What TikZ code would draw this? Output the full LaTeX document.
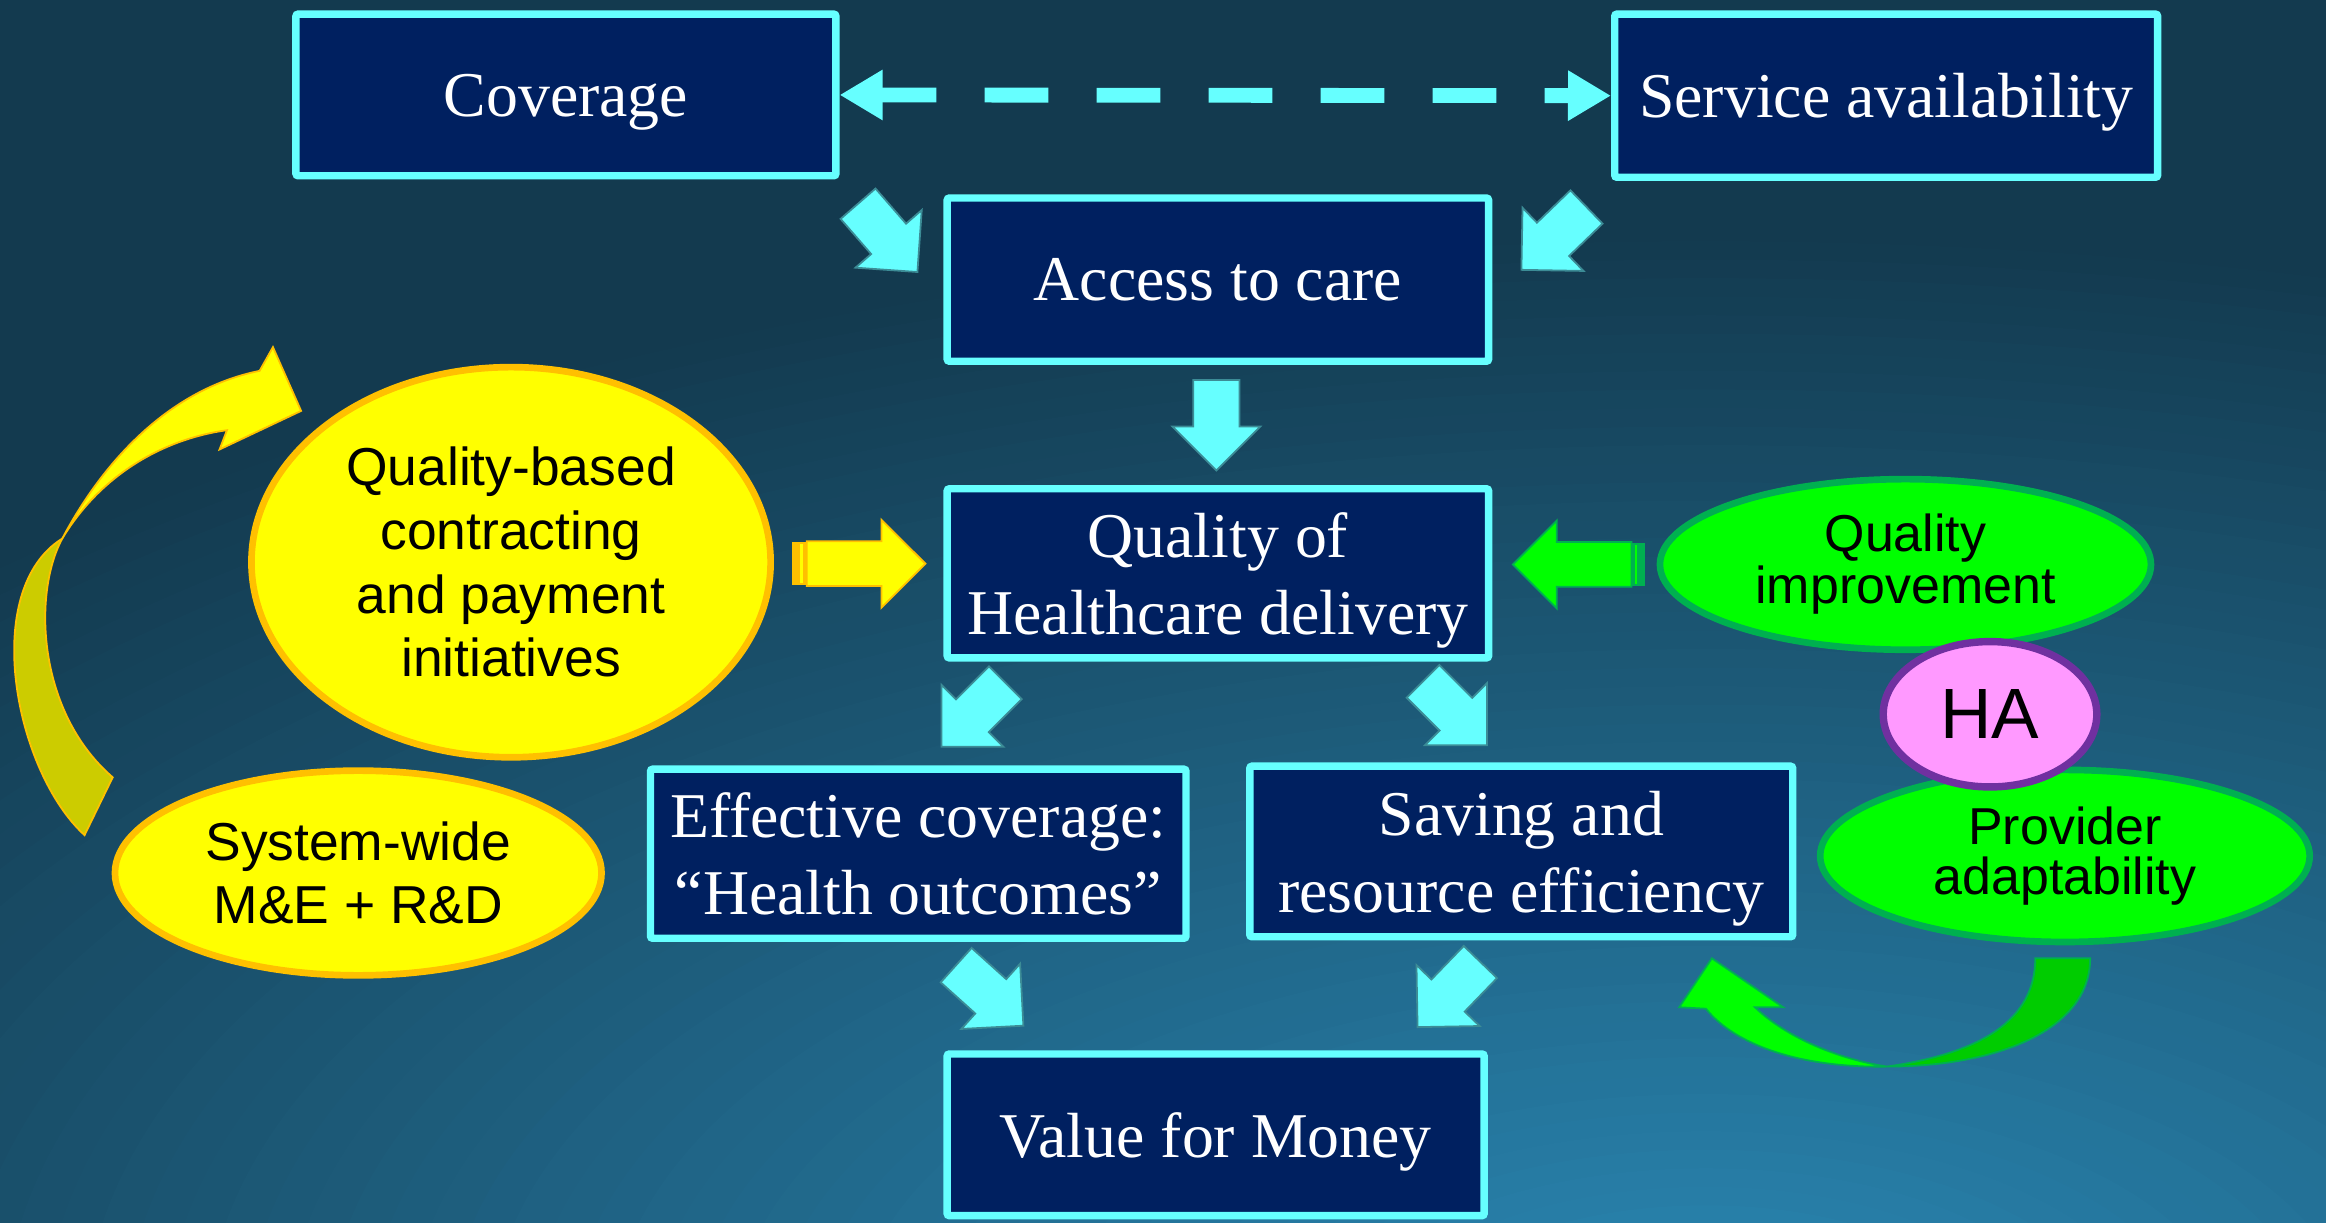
\documentclass[tikz,border=0pt]{standalone}
\usepackage{fontspec}
\setmainfont{Liberation Serif}
\setsansfont{Liberation Sans}
\usetikzlibrary{shapes.geometric,shapes.arrows,arrows.meta}

\definecolor{bgin}{RGB}{42,136,180}
\definecolor{bgout}{RGB}{19,58,79}
\definecolor{navy}{RGB}{0,32,96}
\definecolor{aqua}{RGB}{102,255,255}
\definecolor{aquaedge}{RGB}{60,140,150}
\definecolor{sun}{RGB}{255,255,0}
\definecolor{amber}{RGB}{255,192,0}
\definecolor{olive}{RGB}{204,204,0}
\definecolor{lime}{RGB}{0,255,0}
\definecolor{darklime}{RGB}{0,204,0}
\definecolor{leaf}{RGB}{0,176,80}
\definecolor{pinkfill}{RGB}{255,153,255}
\definecolor{plum}{RGB}{112,48,160}

\begin{document}
\begin{tikzpicture}[x=1pt,y=-1pt,
    box/.style={rectangle,draw=aqua,fill=navy,line width=5pt,rounded corners=1.5pt,
      text=white,align=center,inner sep=0pt,text depth=0pt,font=\fontsize{43}{52}\selectfont},
    blob/.style={ellipse,line width=4.5pt,inner sep=0pt,align=center,text=black},
    sunblob/.style={blob,draw=amber,fill=sun,font=\sffamily\fontsize{36}{43}\selectfont},
    leafblob/.style={blob,draw=leaf,fill=lime,font=\sffamily\fontsize{35}{35}\selectfont},
    fatarrow/.style={single arrow,single arrow tip angle=90,anchor=tip,
      inner xsep=0pt,inner ysep=15pt,single arrow head extend=14pt,
      minimum width=58pt,minimum height=61pt,line width=1.2pt,draw=aquaedge,fill=aqua},
    sidearrow/.style={fatarrow,inner ysep=14.5pt,single arrow head extend=14.5pt,
      minimum height=80pt},
    dashlink/.style={draw=aqua,line width=10pt,dash pattern=on 43pt off 32.5pt,dash phase=5pt,
      {Triangle[width=32pt,length=29pt]}-{Triangle[width=32pt,length=29pt]}},
  ]
  \useasboundingbox (0,0) rectangle (1568,824);
  \begin{scope}
    \clip (0,0) rectangle (1568,824);
    \fill[bgout] (0,0) rectangle (1568,824);
    \foreach \k in {60,...,1} {
      \pgfmathsetmacro\r{\k/60}
      \pgfmathtruncatemacro\p{100-100*\r}
      \fill[bgin!\p!bgout] (1150,900) ellipse [x radius=\r*1640, y radius=\r*750];
    }
  \end{scope}

  % curved arrows
  \filldraw[fill=olive,draw=amber,line width=1.2pt]
    (57,563) .. controls (10,520) and (-14,398) .. (42,363)
    .. controls (22,400) and (25,480) .. (76,524) -- cycle;
  \filldraw[fill=sun,draw=amber,line width=1.2pt]
    (42,363) .. controls (70,310) and (115,262) .. (175,250) -- (184,234) -- (203,277)
    -- (148,303) -- (153,290) .. controls (110,296) and (68,320) .. (42,363) -- cycle;
  \filldraw[fill=darklime,draw=leaf,line width=1.2pt]
    (1372,646) -- (1409,646) .. controls (1409,695) and (1345,719) .. (1272,719)
    .. controls (1335,710) and (1372,688) .. (1372,646) -- cycle;
  \filldraw[fill=lime,draw=leaf,line width=1.2pt]
    (1272,719) .. controls (1215,720) and (1170,705) .. (1150,680) -- (1132,679)
    -- (1154,646) -- (1202,679) -- (1183,679) .. controls (1205,700) and (1240,714) .. (1272,719) -- cycle;

  \node[sunblob,minimum width=350pt,minimum height=263pt] (qbc) at (344.5,379)
    {Quality-based\\contracting\\and payment\\initiatives};
  \node[sunblob,minimum width=328pt,minimum height=138pt,font=\sffamily\fontsize{36}{42}\selectfont]
    (sysw) at (241.5,588.5) {System-wide\\M\&E + R\&D};
  \node[leafblob,minimum width=331pt,minimum height=115pt] (qimp) at (1284.5,380.5)
    {Quality\\improvement};
  \node[leafblob,minimum width=330pt,minimum height=116pt,font=\sffamily\fontsize{35}{34}\selectfont]
    (prov) at (1392,577) {Provider\\adaptability};
  \node[blob,draw=plum,fill=pinkfill,line width=5pt,minimum width=144pt,minimum height=98pt,
    font=\sffamily\fontsize{48}{48}\selectfont] (ha) at (1341.5,481.5) {HA};

  \node[box,minimum width=364pt,minimum height=109pt] (cov) at (381.5,64) {Coverage};
  \node[box,minimum width=366pt,minimum height=110pt] (serv) at (1271.5,64.5) {Service availability};
  \node[box,minimum width=365pt,minimum height=110pt] (acc) at (821,188.5) {Access to care};
  \node[box,minimum width=365pt,minimum height=114pt] (qual) at (821,386.5)
    {Quality of\\Healthcare delivery};
  \node[box,minimum width=361pt,minimum height=114pt] (eff) at (619,575.5)
    {Effective coverage:\\“Health outcomes”};
  \node[box,minimum width=366pt,minimum height=115pt] (sav) at (1025.5,574)
    {Saving and\\resource efficiency};
  \node[box,minimum width=362pt,minimum height=109pt] (val) at (819.5,765) {Value for Money};

  \draw[dashlink] (cov.east) -- (serv.west);

  \node[fatarrow,rotate=-49] (a1) at (619,184) {};
  \node[fatarrow,rotate=-136] (a2) at (1025,182.5) {};
  \node[fatarrow,rotate=-90] (a3) at (820,318) {};
  \node[fatarrow,rotate=-135] (a4) at (634,504) {};
  \node[fatarrow,rotate=-45] (a5) at (1003,503) {};
  \node[fatarrow,rotate=-42] (a6) at (690.5,692) {};
  \node[fatarrow,rotate=-134] (a7) at (955,693) {};

  \fill[amber] (534,365.5) rectangle (545,394.5);
  \fill[sun] (539.5,367) rectangle (541,393);
  \node[sidearrow,draw=amber,fill=sun] (ys) at (624.7,380) {};
  \fill[leaf] (1098,366) rectangle (1109,395);
  \fill[lime] (1102,367.5) rectangle (1103.5,393.5);
  \node[sidearrow,draw=leaf,fill=lime,rotate=180] (gs) at (1019,380.5) {};
\end{tikzpicture}
\end{document}
